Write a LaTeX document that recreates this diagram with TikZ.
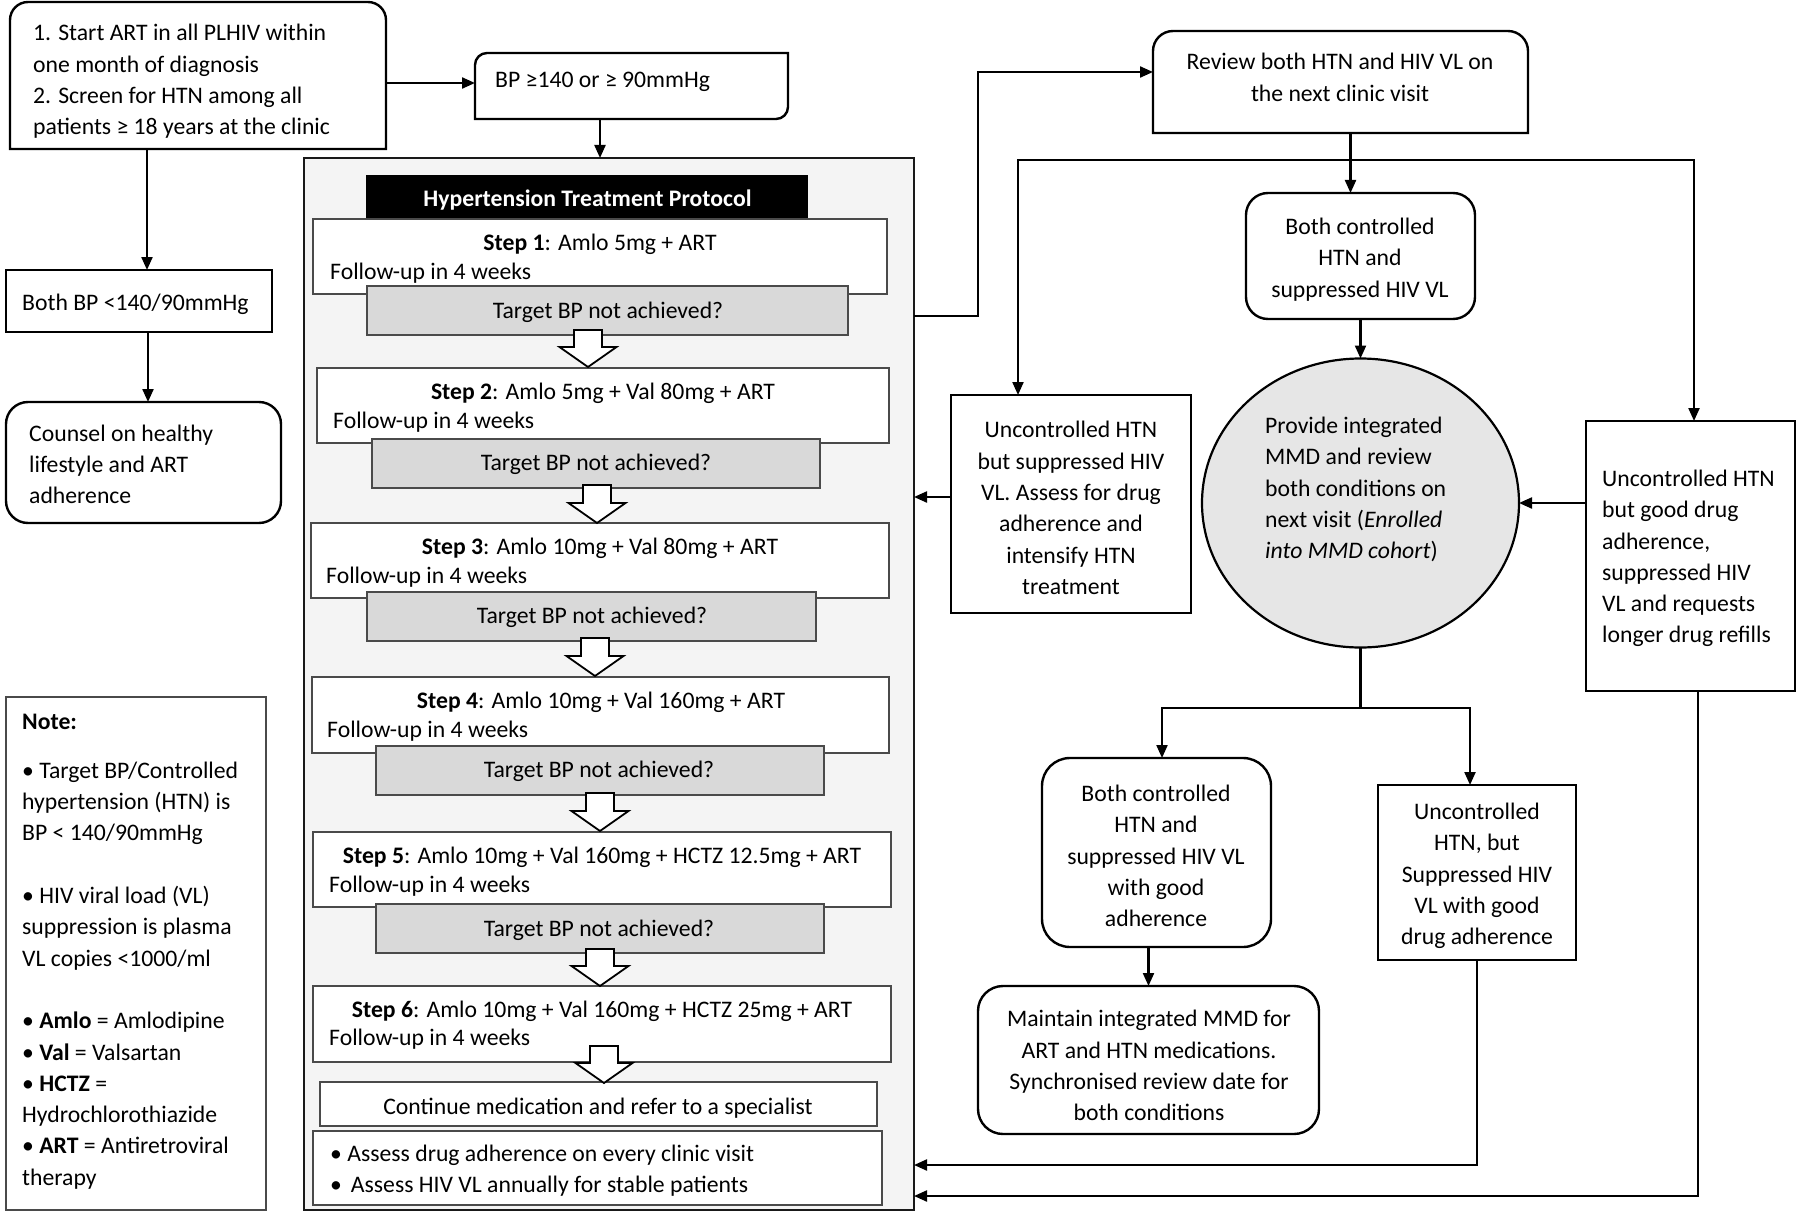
\documentclass[tikz,border=0pt]{standalone}
\usepackage{fontspec}
\setmainfont{Carlito}
\usetikzlibrary{arrows.meta,calc,shapes.geometric}
\newcommand\fs{\fontsize{23.7pt}{31.3pt}\selectfont}
\definecolor{framegray}{HTML}{F4F4F4}
\definecolor{tgtgray}{HTML}{D9D9D9}
\definecolor{ellgray}{HTML}{E6E6E6}
\definecolor{edgegray}{HTML}{4A4A4A}
\newcommand\barrow[3]{%
  \draw[line width=1.8pt, fill=white, line join=miter]
    ({#1-14},#2) -- ({#1+14},#2) -- ({#1+14},{#3-20}) -- ({#1+28.5},{#3-20})
    -- (#1,#3) -- ({#1-28.5},{#3-20}) -- ({#1-14},{#3-20}) -- cycle;}
\begin{document}
\begin{tikzpicture}[x=1pt,y=-1pt,
  sz/.style 2 args={minimum width=#1pt, minimum height=#2pt},
  shp/.style={inner sep=0pt, outer sep=0pt},
  plain/.style={shp, draw=black, line width=2.4pt, fill=white},
  hidden/.style={shp, draw=none},
  rbox/.style={plain, rounded corners=22pt},
  stepbox/.style={shp, draw=edgegray, line width=1.8pt, fill=white},
  tgt/.style={shp, draw=edgegray, line width=1.8pt, fill=tgtgray},
  txt/.style={inner sep=0pt, font=\fs, yshift=-1.5pt},
  arr/.style={line width=2.2pt, -{Triangle[length=13pt,width=11pt]}},
  ln/.style={line width=2.2pt},
  cbox/.style={line width=2.4pt, draw=black, fill=white}
]
\useasboundingbox (0,0) rectangle (1797,1212);
\coordinate (y72) at (0,72);
\coordinate (y160) at (0,160);
\coordinate (y316) at (0,316);
\coordinate (y708) at (0,708);
\coordinate (y1165) at (0,1165);
\coordinate (y1196) at (0,1196);

% ---------- left column ----------
\node[hidden, sz={376}{147}] (b1) at (198,75.5) {};
\draw[cbox] (b1.south west) -- ([yshift=-18pt]b1.north west)
  arc[start angle=180,end angle=90,radius=18pt] -- ([xshift=-18pt]b1.north east)
  arc[start angle=90,end angle=0,radius=18pt] -- (b1.south east) -- cycle;
\node[txt, anchor=west, align=left] (b1t) at (33,80)
  {1. Start ART in all PLHIV within\\one month of diagnosis\\2. Screen for HTN among all\\patients ≥ 18 years at the clinic};

\node[hidden, sz={313}{66}] (bp) at (631.5,86) {};
\draw[cbox] (bp.south west) -- ([yshift=-12pt]bp.north west)
  arc[start angle=180,end angle=90,radius=12pt] -- (bp.north east)
  -- ([yshift=12pt]bp.south east) arc[start angle=0,end angle=-90,radius=12pt] -- cycle;
\node[txt, anchor=west] (bpt) at (495,80) {BP ≥140 or ≥ 90mmHg};

\node[plain, sz={266}{62}] (bothbp) at (139,301) {};
\node[txt, anchor=west] (bothbpt) at (22,303) {Both BP <140/90mmHg};

\node[rbox, sz={275}{121}] (counsel) at (143.5,462.5) {};
\node[txt, anchor=west, align=left] (counselt) at (29,463)
  {Counsel on healthy\\lifestyle and ART\\adherence};

\node[shp, draw=edgegray, line width=1.8pt, fill=white, sz={260}{513}] (note) at (136,953.5) {};
\node[txt, anchor=west] (notet) at (22,720) {\textbf{Note:}};
\node[txt, anchor=west, align=left] (noteb) at (22,974)
  {• Target BP/Controlled\\hypertension (HTN) is\\BP < 140/90mmHg\\[31.3pt]
   • HIV viral load (VL)\\suppression is plasma\\VL copies <1000/ml\\[31.3pt]
   • \textbf{Amlo} = Amlodipine\\• \textbf{Val} = Valsartan\\• \textbf{HCTZ} =\\Hydrochlorothiazide\\• \textbf{ART} = Antiretroviral\\therapy};

% ---------- protocol frame ----------
\node[shp, draw=black!90, line width=2.6pt, fill=framegray, sz={610}{1052}] (frame) at (609,684) {};
\node[shp, fill=black, sz={442}{43}] (hdr) at (587,196.5) {};
\node[txt, text=white] (hdrt) at (587.5,199) {\textbf{Hypertension Treatment Protocol}};

\node[stepbox, sz={574}{75}] (s1) at (600,256.5) {};
\node[txt] (s1a) at (600,243) {\textbf{Step 1}: Amlo 5mg + ART};
\node[txt, anchor=west] (s1b) at (330,272) {Follow-up in 4 weeks};
\node[tgt, sz={481}{49}] (t1) at (607.5,310.5) {};
\node[txt] (t1t) at (608,311) {Target BP not achieved?};

\node[stepbox, sz={572}{75}] (s2) at (603,405.5) {};
\node[txt] (s2a) at (603,392) {\textbf{Step 2}: Amlo 5mg + Val 80mg + ART};
\node[txt, anchor=west] (s2b) at (333,421) {Follow-up in 4 weeks};
\node[tgt, sz={448}{49}] (t2) at (596,463.5) {};
\node[txt] (t2t) at (596,463) {Target BP not achieved?};

\node[stepbox, sz={578}{75}] (s3) at (600,560.5) {};
\node[txt] (s3a) at (600,547) {\textbf{Step 3}: Amlo 10mg + Val 80mg + ART};
\node[txt, anchor=west] (s3b) at (326,576) {Follow-up in 4 weeks};
\node[tgt, sz={449}{49}] (t3) at (591.5,616.5) {};
\node[txt] (t3t) at (592,616) {Target BP not achieved?};

\node[stepbox, sz={577}{76}] (s4) at (600.5,715) {};
\node[txt] (s4a) at (601,701) {\textbf{Step 4}: Amlo 10mg + Val 160mg + ART};
\node[txt, anchor=west] (s4b) at (327,730) {Follow-up in 4 weeks};
\node[tgt, sz={448}{49}] (t4) at (600,770.5) {};
\node[txt] (t4t) at (599,770) {Target BP not achieved?};

\node[stepbox, sz={578}{75}] (s5) at (602,869.5) {};
\node[txt] (s5a) at (602,856) {\textbf{Step 5}: Amlo 10mg + Val 160mg + HCTZ 12.5mg + ART};
\node[txt, anchor=west] (s5b) at (329,885) {Follow-up in 4 weeks};
\node[tgt, sz={448}{49}] (t5) at (600,928.5) {};
\node[txt] (t5t) at (599,929) {Target BP not achieved?};

\node[stepbox, sz={578}{76}] (s6) at (602,1024) {};
\node[txt] (s6a) at (602,1010) {\textbf{Step 6}: Amlo 10mg + Val 160mg + HCTZ 25mg + ART};
\node[txt, anchor=west] (s6b) at (329,1038) {Follow-up in 4 weeks};

\node[stepbox, sz={557}{44}] (cont) at (598.5,1104) {};
\node[txt] (contt) at (598,1107) {Continue medication and refer to a specialist};
\node[stepbox, sz={569}{74}] (assess) at (597.5,1168) {};
\node[txt, anchor=west, align=left] (assesst) at (330,1169.5)
  {• Assess drug adherence on every clinic visit\\•\hspace{9pt}Assess HIV VL annually for stable patients};

\barrow{588}{330}{367}
\barrow{597}{485}{523}
\barrow{595}{638}{676}
\barrow{600}{793}{831}
\barrow{600}{949}{986}
\barrow{604}{1046}{1083}

% ---------- right part ----------
\node[hidden, sz={375}{102}] (rev) at (1340.5,82) {};
\draw[cbox] (rev.south west) -- ([yshift=-20pt]rev.north west)
  arc[start angle=180,end angle=90,radius=20pt] -- ([xshift=-20pt]rev.north east)
  arc[start angle=90,end angle=0,radius=20pt] -- (rev.south east) -- cycle;
\node[txt, align=center] (revt) at (1340,76) {Review both HTN and HIV VL on\\the next clinic visit};

\node[rbox, sz={229}{126}] (bc1) at (1360.5,256) {};
\node[txt, align=center] (bc1t) at (1360,258) {Both controlled\\HTN and\\suppressed HIV VL};

\node[ellipse, draw=black, line width=2.2pt, fill=ellgray, inner sep=0pt, outer sep=0pt,
      minimum width=317pt, minimum height=289pt] (ell) at (1360.5,503) {};
\node[txt, anchor=west, align=left] (ellt) at (1265,488)
  {Provide integrated\\MMD and review\\both conditions on\\next visit (\textit{Enrolled}\\\textit{into MMD cohort})};

\node[plain, sz={240}{218}] (unc1) at (1071,504) {};
\node[txt, align=center] (unc1t) at (1071,506.5)
  {Uncontrolled HTN\\but suppressed HIV\\VL. Assess for drug\\adherence and\\intensify HTN\\treatment};

\node[plain, sz={209}{270}] (urb) at (1690.5,556) {};
\node[txt, anchor=west, align=left] (urbt) at (1602,557)
  {Uncontrolled HTN\\but good drug\\adherence,\\suppressed HIV\\VL and requests\\longer drug refills};

\node[rbox, rounded corners=28pt, sz={229}{189}] (bc2) at (1156.5,852.5) {};
\node[txt, align=center] (bc2t) at (1156,854.5)
  {Both controlled\\HTN and\\suppressed HIV VL\\with good\\adherence};

\node[plain, sz={198}{175}] (unc2) at (1477,872.5) {};
\node[txt, align=center] (unc2t) at (1477,874.5)
  {Uncontrolled\\HTN, but\\Suppressed HIV\\VL with good\\drug adherence};

\node[rbox, rounded corners=25pt, sz={341}{148}] (maint) at (1148.5,1060) {};
\node[txt, align=center] (maintt) at (1149,1064)
  {Maintain integrated MMD for\\ART and HTN medications.\\Synchronised review date for\\both conditions};

% ---------- connectors ----------
\draw[arr] ([yshift=-7.5pt]b1.east) -- ([yshift=-7.5pt]b1.east -| bp.west);
\draw[arr] ([xshift=-31.5pt]bp.south) -- ([xshift=-31.5pt]bp.south |- frame.north);
\draw[arr] ([xshift=8pt]bothbp.north |- b1.south) -- ([xshift=8pt]bothbp.north);
\draw[arr] ([xshift=4.5pt]counsel.north |- bothbp.south) -- ([xshift=4.5pt]counsel.north);

\draw[arr] (frame.east |- y316) -| ([xshift=-175pt,yshift=10pt]rev.west) -- ([yshift=10pt]rev.west);
\draw[arr] ([xshift=10pt]rev.south) -- ([xshift=10pt]rev.south |- bc1.north);
\coordinate (j1) at ([xshift=10pt]rev.south |- y160);
\draw[arr] (j1) -| ([xshift=-53pt]unc1.north);
\draw[arr] (j1) -| ([xshift=3.5pt]urb.north);
\draw[arr] (bc1.south) -- (ell.north);
\draw[arr] ([yshift=7pt]unc1.west) -- ([yshift=7pt]unc1.west -| frame.east);
\draw[arr] ([yshift=53pt]urb.west) -- (ell.east);
\coordinate (j2) at (ell.south |- y708);
\draw[ln] (ell.south) -- (j2);
\draw[arr] (j2) -| ([xshift=5.5pt]bc2.north);
\draw[arr] (j2) -| ([xshift=-7pt]unc2.north);
\draw[arr] (maint.north |- bc2.south) -- (maint.north);
\draw[arr] (unc2.south) |- (frame.east |- y1165);
\draw[arr] ([xshift=7.5pt]urb.south) |- (frame.east |- y1196);
\end{tikzpicture}
\end{document}
